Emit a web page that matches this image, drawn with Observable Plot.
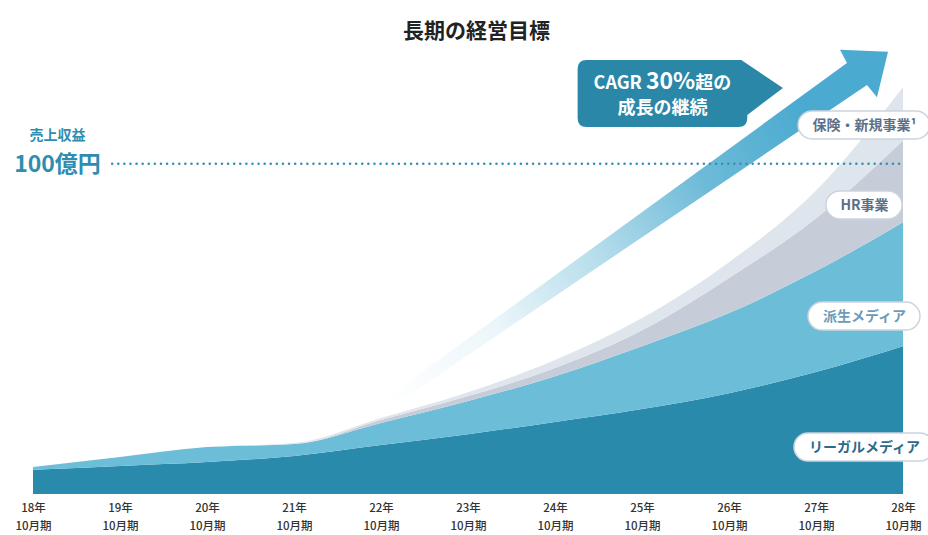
<!DOCTYPE html>
<html><head><meta charset="utf-8">
<script src="https://cdn.jsdelivr.net/npm/d3@7"></script>
<script src="https://cdn.jsdelivr.net/npm/@observablehq/plot@0.6"></script>
<style>
body{margin:0;background:#fff;}
#chart svg{font-family:"Noto Sans CJK JP","Noto Sans",sans-serif;overflow:visible;}
</style></head><body><div id="chart"></div>
<script>
// ---- data ----
const years = [18, 19, 20, 21, 22, 23, 24, 25, 26, 27, 28];
const series = ["リーガルメディア", "派生メディア", "HR事業", "保険・新規事業"];
const legal     = [7.3, 8.5, 9.7, 11.5, 14.8, 18.1, 21.8, 25.7, 30.5, 36.9, 44.7];
const derived   = [0.9, 2.7, 4.5, 3.6, 6.7, 10.0, 13.8, 19.0, 24.2, 30.5, 37.5];
const hr        = [0, 0, 0, 0, 0.9, 1.5, 2.5, 4.8, 10.6, 16.0, 24.7];
const insurance = [0, 0, 0, 0.3, 0.6, 1.2, 2.4, 3.7, 4.8, 8.4, 16.1];
const seriesLabels = ["リーガルメディア", "派生メディア", "HR事業", "保険・新規事業¹"];
const title = "長期の経営目標";
const targetCaption = "売上収益";
const targetValue = 100;
const targetText = "100億円";
const cagrLine1 = ["CAGR ", "30%", "超の"];
const cagrLine2 = "成長の継続";

const colors = ["#2a8aab", "#6cbdd7", "#c6cdd9", "#dfe5ec"];
const values = [legal, derived, hr, insurance];
const rows = series.flatMap((s, i) => years.map((yr, j) => ({year: yr, series: s, value: values[i][j]})));

// annotation anchors (data coordinates)
const labelY = [14.2, 53.8, 87.4, 111.6];
const labelColors = ["#2d6a8a", "#6d9cb7", "#5b7088", "#5b7088"];
const arrowShape = [[21.966, 27.2], [27.356, 130.3], [27.276, 134.3], [27.828, 133.7], [27.701, 120.0], [27.586, 123.7], [22.034, 24.8]];

const NS = "http://www.w3.org/2000/svg";
function el(tag, attrs) { const e = document.createElementNS(NS, tag); for (const k in attrs) e.setAttribute(k, attrs[k]); return e; }
const ctx = document.createElement("canvas").getContext("2d");
function textWidth(t, font) { ctx.font = font; return ctx.measureText(t).width; }

function arrowMark(index, scales) {
  const {x, y} = scales;
  const g = el("g", {});
  const defs = el("defs", {});
  const p0 = [x(22.1), y(27)], p1 = [x(27.0), y(112)];
  const grad = el("linearGradient", {id: "arrowGrad", gradientUnits: "userSpaceOnUse", x1: p0[0], y1: p0[1], x2: p1[0], y2: p1[1]});
  [[0, 0], [0.25, 0.1], [0.5, 0.4], [0.75, 0.8], [1, 1]].forEach(([o, a]) =>
    grad.appendChild(el("stop", {offset: o, "stop-color": "#4aaacf", "stop-opacity": a})));
  defs.appendChild(grad);
  g.appendChild(defs);
  const pts = arrowShape.map(([a, b]) => `${x(a)},${y(b)}`).join(" ");
  g.appendChild(el("polygon", {points: pts, fill: "url(#arrowGrad)"}));
  return g;
}

function cagrMark(index, scales) {
  const {x, y} = scales;
  const g = el("g", {});
  const L = x(24.26), R = x(26.21), T = y(131.2), B = y(111.0), tx = x(26.62), ty = y(122.8), r = 9;
  const d = `M${L + r},${T} H${R - 6} L${tx},${ty} L${R},${B - 12} V${B - r} Q${R},${B} ${R - r},${B} H${L + r} Q${L},${B} ${L},${B - r} V${T + r} Q${L},${T} ${L + r},${T} Z`;
  g.appendChild(el("path", {d, fill: "#2a87a8"}));
  const cx = (L + R) / 2;
  const t1 = el("text", {x: cx, y: T + 29, "text-anchor": "middle", fill: "#fff", "font-weight": "700", "font-size": "18"});
  const sizes = [18, 23, 18];
  cagrLine1.forEach((s, i) => { const ts = el("tspan", {"font-size": sizes[i]}); ts.textContent = s; t1.appendChild(ts); });
  g.appendChild(t1);
  const t2 = el("text", {x: cx, y: T + 54, "text-anchor": "middle", fill: "#fff", "font-weight": "700", "font-size": "18"});
  t2.textContent = cagrLine2;
  g.appendChild(t2);
  return g;
}

function pillMark(index, scales, values, dims) {
  const {y} = scales;
  const g = el("g", {});
  const xr = dims.width - dims.marginRight;
  seriesLabels.forEach((s, i) => {
    const w = textWidth(s, `bold 14px "Noto Sans CJK JP"`) + 28;
    const cx = xr - 39, cy = y(labelY[i]);
    g.appendChild(el("rect", {x: cx - w / 2, y: cy - 14, width: w, height: 28, rx: 14, ry: 14, fill: "#fff", stroke: "#cbd4dd", "stroke-width": 1.5}));
  });
  return g;
}

const plot = Plot.plot({
  width: 928,
  height: 535,
  marginLeft: 33,
  marginRight: 25,
  marginTop: 31,
  marginBottom: 41,
  x: {domain: [18, 28], axis: null},
  y: {domain: [0, 140], axis: null},
  color: {domain: series, range: colors},
  marks: [
    Plot.areaY(rows, {x: "year", y: "value", fill: "series", order: series, curve: "monotone-x"}),
    arrowMark,
    cagrMark,
    Plot.ruleY([targetValue], {x1: 18.91, x2: 28, stroke: "#3a8fb0", strokeWidth: 2.6, strokeDasharray: "0 6.1", strokeLinecap: "round"}),
    Plot.text([targetCaption], {frameAnchor: "left", y: targetValue, dx: 24, dy: -28, textAnchor: "middle", fill: "#2f8db0", fontSize: 14, fontWeight: "bold"}),
    Plot.text([targetText], {frameAnchor: "left", y: targetValue, dx: 24, dy: 1, textAnchor: "middle", fill: "#2f8db0", fontSize: 23, fontWeight: "bold"}),
    pillMark,
    Plot.text(seriesLabels, {frameAnchor: "right", y: (d, i) => labelY[i], dx: -39, textAnchor: "middle", fill: (d, i) => labelColors[i], fontSize: 14, fontWeight: "bold"}),
    Plot.text(years, {x: d => d, text: d => `${d}年\n10月期`, frameAnchor: "bottom", lineAnchor: "top", dy: 5, lineHeight: 1.55, fontSize: 11.5, fill: "#333", fontWeight: 500}),
    Plot.text([title], {frameAnchor: "top", dx: 8, dy: -8, fontSize: 21, fontWeight: "bold", fill: "#222"})
  ]
});
document.getElementById("chart").appendChild(plot);
</script>
</body></html>
